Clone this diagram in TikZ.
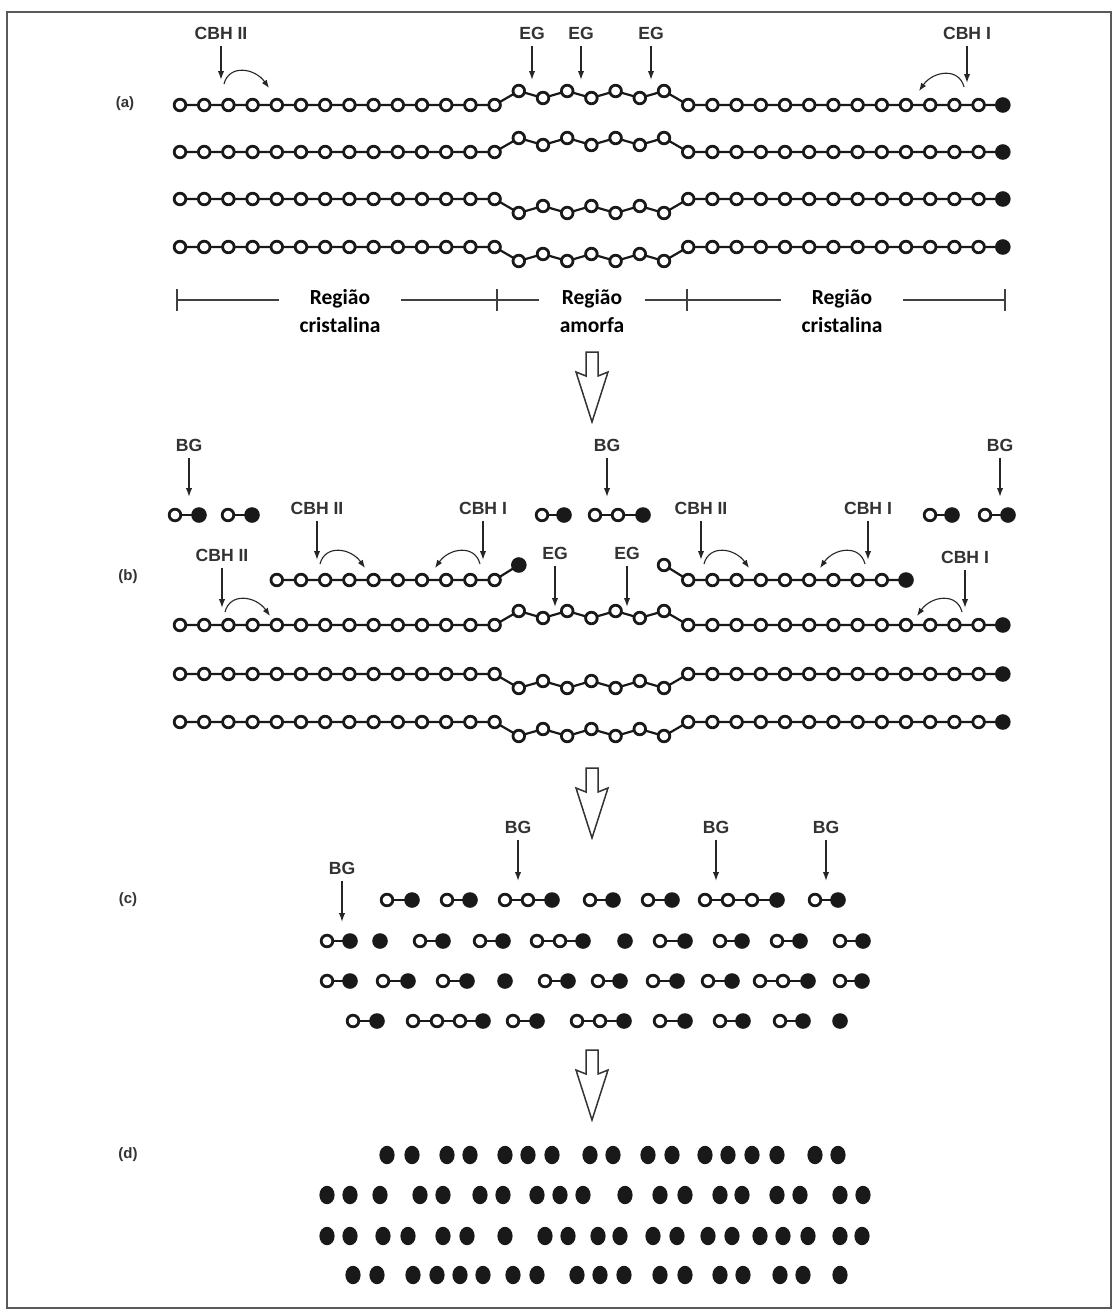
\documentclass[tikz,border=0pt]{standalone}
\usepackage{fontspec}
\setmainfont{Liberation Sans}
\newfontfamily\regfont{Carlito}
\usetikzlibrary{positioning,arrows.meta,shapes.geometric,backgrounds,calc}

% one cellulose chain: name, y, bend of the amorphous part (-1 up, 1 down)
\newcommand\cellchain[3]{%
  \foreach \k in {0,...,33}{%
    \pgfmathsetmacro\dy{(\k>13)*(\k<21)*(#3)*(mod(\k,2)==0 ? 14 : 7)}%
    \node[glc] (#1-\k) at ({180+24.2*\k},{#2+\dy}) {};
  }%
  \node[glcend] (#1-34) at ({180+24.2*34},#2) {};
  \begin{scope}[on background layer]
    \draw[bond] (#1-0.center) \foreach \k in {1,...,34}{ -- (#1-\k.center)};
  \end{scope}%
}
% short piece: name, y, open units, reducing end
\newcommand\oligo[4]{%
  \node[glcend] (#1-e) at (#4,#2) {};
  \foreach \x [count=\i] in {#3}{%
    \node[glc] (#1-\i) at (\x,#2) {};
    \begin{scope}[on background layer]
      \draw[bond] (#1-\i.center) -- (#1-e.center);
    \end{scope}
  }%
}
% enzyme label with its arrow: name, x, y label, y tip, text
\newcommand\enzyme[5]{%
  \node[enz] (#1) at (#2,#3) {#5};
  \coordinate (#1-t) at (#2,#4);
  \draw[cut] (#1) -- (#1-t);
}
% processive move after the cut
\newcommand\walkright[1]{%
  \coordinate (#1-s) at ($(#1-t)+(3,4)$);
  \coordinate (#1-e) at ($(#1-t)+(48,8)$);
  \draw[walk] (#1-s) .. controls +(5,-20) and +(-14,-20) .. (#1-e);
}
\newcommand\walkleft[1]{%
  \coordinate (#1-s) at ($(#1-t)+(-3,4)$);
  \coordinate (#1-e) at ($(#1-t)+(-48,8)$);
  \draw[walk] (#1-s) .. controls +(-5,-20) and +(14,-20) .. (#1-e);
}
% big open arrow between the stages
\newcommand\bigarrow[2]{%
  \coordinate (#1) at (592,#2);
  \draw[hollow] ($(#1)+(-6,0)$) -- ++(12,0) -- ++(0,24) -- ++(10,-4)
    -- ($(#1)+(0,70)$) -- ($(#1)+(-16,20)$) -- ($(#1)+(-6,24)$) -- cycle;
}

\begin{document}
\begin{tikzpicture}[x=0.5pt,y=-0.5pt,
    glc/.style={circle,draw=black!90,fill=white,line width=1.4pt,inner sep=0pt,minimum size=5.8pt},
    glcend/.style={circle,fill=black!90,inner sep=0pt,minimum size=7.8pt},
    bead/.style={ellipse,fill=black!90,inner sep=0pt,minimum width=7.6pt,minimum height=9.2pt},
    bond/.style={line width=1.1pt,draw=black!90},
    enz/.style={font=\bfseries\fontsize{8.8}{10}\selectfont,text=black!80,inner sep=3pt},
    panel/.style={font=\bfseries\fontsize{7.5}{9}\selectfont,text=black!80},
    regiao/.style={font=\regfont\bfseries\fontsize{10.75}{14}\selectfont,align=center,inner xsep=10pt,inner ysep=0pt},
    cut/.style={-{Latex[length=4.5pt,width=3.2pt]},line width=0.7pt,draw=black!85},
    walk/.style={-{Latex[length=4pt,width=3pt]},line width=0.55pt,draw=black!85},
    brk/.style={line width=0.7pt,draw=black!75},
    hollow/.style={line width=0.75pt,draw=black!80,fill=white,line join=miter},
]
\useasboundingbox (0,0) rectangle (1115,1312);
\begin{scope}[on background layer]
  \fill[white] (0,0) rectangle (1115,1312);
\end{scope}
\draw[line width=1.2pt,draw=black!65] (7,12) rectangle (1111,1308);

% (a) intact microfibril
\node[panel] (pa) at (125,104) {(a)};
\cellchain{a1}{105}{-1}
\cellchain{a2}{152}{-1}
\cellchain{a3}{199}{1}
\cellchain{a4}{247}{1}
\enzyme{acbh2}{221}{33}{80}{CBH II}
\walkright{acbh2}
\enzyme{aeg1}{532}{33}{80}{EG}
\enzyme{aeg2}{581}{33}{80}{EG}
\enzyme{aeg3}{651}{33}{80}{EG}
\enzyme{acbh1}{967}{33}{83}{CBH I}
\walkleft{acbh1}

% regions under the chains
\coordinate (rt1) at (177,300);
\coordinate (rt2) at (497,300);
\coordinate (rt3) at (687,300);
\coordinate (rt4) at (1005,300);
\node[regiao] (rc1) at (340,311) {Região\\cristalina};
\node[regiao] (ram) at (592,311) {Região\\amorfa};
\node[regiao] (rc2) at (842,311) {Região\\cristalina};
\draw[brk] (rt1) -- (rc1.west |- rt1);
\draw[brk] (rc1.east |- rt2) -- (ram.west |- rt2);
\draw[brk] (ram.east |- rt3) -- (rc2.west |- rt3);
\draw[brk] (rc2.east |- rt4) -- (rt4);
\foreach \t in {rt1,rt2,rt3,rt4}
  \draw[brk] ([yshift=-5.5pt]\t) -- ([yshift=5.5pt]\t);

\bigarrow{ar1}{352}

% (b) first attack
\node[panel] (pb) at (128,577) {(b)};
\enzyme{bbg1}{189}{445}{497}{BG}
\enzyme{bbg2}{607}{445}{497}{BG}
\enzyme{bbg3}{1000}{445}{497}{BG}
\oligo{bf1}{515}{175}{199}
\oligo{bf2}{515}{228}{252}
\oligo{bf3}{515}{542}{564}
\oligo{bf4}{515}{595,618}{643}
\oligo{bf5}{515}{930}{952}
\oligo{bf6}{515}{985}{1008}
% chains released from the surface
\foreach \k in {4,...,13}
  \node[glc] (bl-\k) at ({180+24.2*\k},580) {};
\node[glcend] (bl-14) at (518.8,565) {};
\node[glc] (br-20) at (664,565) {};
\foreach \k in {21,...,29}
  \node[glc] (br-\k) at ({180+24.2*\k},580) {};
\node[glcend] (br-30) at (906,580) {};
\begin{scope}[on background layer]
  \draw[bond] (bl-4.center) \foreach \k in {5,...,14}{ -- (bl-\k.center)};
  \draw[bond] (br-20.center) \foreach \k in {21,...,30}{ -- (br-\k.center)};
\end{scope}
\enzyme{bcbh2a}{317}{508}{560}{CBH II}
\walkright{bcbh2a}
\enzyme{bcbh1a}{483}{508}{560}{CBH I}
\walkleft{bcbh1a}
\enzyme{bcbh2b}{701}{508}{560}{CBH II}
\walkright{bcbh2b}
\enzyme{bcbh1b}{868}{508}{560}{CBH I}
\walkleft{bcbh1b}
\cellchain{b1}{625}{-1}
\cellchain{b2}{674}{1}
\cellchain{b3}{722}{1}
\enzyme{bcbh2c}{222}{555}{608}{CBH II}
\walkright{bcbh2c}
\enzyme{beg1}{555}{553}{607}{EG}
\enzyme{beg2}{627}{553}{607}{EG}
\enzyme{bcbh1c}{965}{557}{608}{CBH I}
\walkleft{bcbh1c}

\bigarrow{ar2}{768}

% (c) cellobiose and short oligomers
\node[panel] (pc) at (128,900) {(c)};
\enzyme{cbg1}{342}{868}{922}{BG}
\enzyme{cbg2}{518}{827}{881}{BG}
\enzyme{cbg3}{716}{827}{881}{BG}
\enzyme{cbg4}{826}{827}{881}{BG}
\oligo{c1a}{900}{387}{412}
\oligo{c1b}{900}{447}{470}
\oligo{c1c}{900}{505,528}{552}
\oligo{c1d}{900}{590}{613}
\oligo{c1e}{900}{648}{672}
\oligo{c1f}{900}{705,728,752}{777}
\oligo{c1g}{900}{815}{838}
\oligo{c2a}{941}{327}{350}
\node[glcend] (c2b) at (380,941) {};
\oligo{c2c}{941}{420}{443}
\oligo{c2d}{941}{480}{503}
\oligo{c2e}{941}{537,560}{583}
\node[glcend] (c2f) at (625,941) {};
\oligo{c2g}{941}{660}{685}
\oligo{c2h}{941}{720}{742}
\oligo{c2i}{941}{777}{800}
\oligo{c2j}{941}{840}{863}
\oligo{c3a}{981}{327}{350}
\oligo{c3b}{981}{383}{408}
\oligo{c3c}{981}{443}{467}
\node[glcend] (c3d) at (505,981) {};
\oligo{c3e}{981}{545}{568}
\oligo{c3f}{981}{598}{620}
\oligo{c3g}{981}{653}{677}
\oligo{c3h}{981}{708}{732}
\oligo{c3i}{981}{760,783}{808}
\oligo{c3j}{981}{840}{862}
\oligo{c4a}{1021}{353}{377}
\oligo{c4b}{1021}{413,437,460}{483}
\oligo{c4c}{1021}{513}{537}
\oligo{c4d}{1021}{577,600}{624}
\oligo{c4e}{1021}{660}{685}
\oligo{c4f}{1021}{720}{743}
\oligo{c4g}{1021}{780}{803}
\node[glcend] (c4h) at (840,1021) {};

\bigarrow{ar3}{1050}

% (d) glucose only
\node[panel] (pd) at (128,1155) {(d)};
\foreach \x [count=\i] in {387,412,447,470,505,528,552,590,613,648,672,705,728,752,777,815,838}
  \node[bead] (d1-\i) at (\x,1155) {};
\foreach \x [count=\i] in {327,350,380,420,443,480,503,537,560,583,625,660,685,720,742,777,800,840,863}
  \node[bead] (d2-\i) at (\x,1195) {};
\foreach \x [count=\i] in {327,350,383,408,443,467,505,545,568,598,620,653,677,708,732,760,783,808,840,862}
  \node[bead] (d3-\i) at (\x,1236) {};
\foreach \x [count=\i] in {353,377,413,437,460,483,513,537,577,600,624,660,685,720,743,780,803,840}
  \node[bead] (d4-\i) at (\x,1275) {};
\end{tikzpicture}
\end{document}
